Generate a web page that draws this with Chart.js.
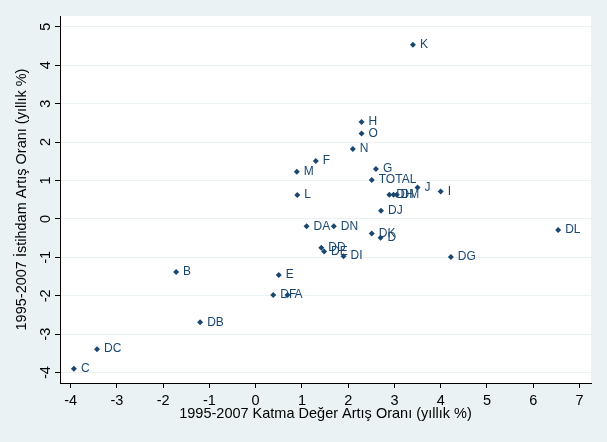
<!DOCTYPE html>
<html><head><meta charset="utf-8">
<script src="https://cdn.jsdelivr.net/npm/chart.js@4.4.1/dist/chart.umd.min.js"></script>
<style>html,body{margin:0;padding:0;background:#EAF2F3;overflow:hidden}canvas{display:block}</style>
</head><body>
<canvas id="c" width="607" height="442"></canvas>
<script>
// Sector codes
const labels = ["K","H","O","N","F","M","G","TOTAL","J","I","DH","DM","","DJ","L",
  "DA","DN","DK","D","DD","DE","DI","DG","DL","E","DF","A","B","DB","DC","C"];
// 1995-2007 value added growth (%/yr)
const xValues = [3.40,2.29,2.29,2.10,1.30,0.89,2.60,2.51,3.50,4.00,2.89,2.98,3.05,2.71,0.90,
  1.10,1.69,2.51,2.70,1.42,1.48,1.90,4.22,6.54,0.50,0.38,0.69,-1.72,-1.20,-3.43,-3.93];
// 1995-2007 employment growth (%/yr)
const yValues = [4.53,2.52,2.22,1.82,1.51,1.23,1.30,1.01,0.82,0.71,0.63,0.63,0.63,0.21,0.62,
  -0.19,-0.19,-0.38,-0.49,-0.75,-0.85,-0.97,-0.99,-0.29,-1.46,-1.98,-1.98,-1.38,-2.69,-3.39,-3.90];
const xTicks = [-4,-3,-2,-1,0,1,2,3,4,5,6,7];
const yTicks = [-4,-3,-2,-1,0,1,2,3,4,5];
const xTitle = "1995-2007 Katma Değer Artış Oranı (yıllık %)";
const yTitle = "1995-2007 İstihdam Artış Oranı (yıllık %)";

const FONT = "'Liberation Sans', Arial, sans-serif";
const NAVY = "#1a476f";
const BG = "#EAF2F3";

const bgPlugin = {
  id: 'bg',
  beforeDraw(chart) {
    const {ctx, chartArea: a} = chart;
    ctx.save();
    ctx.fillStyle = BG;
    ctx.fillRect(0, 0, chart.width, chart.height);
    ctx.fillStyle = '#ffffff';
    ctx.fillRect(a.left, a.top, a.right - a.left, a.bottom - a.top);
    ctx.restore();
  }
};
const labelPlugin = {
  id: 'pointLabels',
  afterDatasetsDraw(chart) {
    const {ctx} = chart;
    const meta = chart.getDatasetMeta(0);
    ctx.save();
    ctx.font = "12px " + FONT;
    ctx.fillStyle = NAVY;
    ctx.textBaseline = 'middle';
    ctx.textAlign = 'left';
    meta.data.forEach((el, i) => {
      if (labels[i]) ctx.fillText(labels[i], el.x + 7, el.y);
    });
    ctx.restore();
  }
};

new Chart(document.getElementById('c'), {
  type: 'scatter',
  data: {
    datasets: [{
      data: xValues.map((x, i) => ({x: x, y: yValues[i]})),
      pointStyle: 'rectRot',
      pointRadius: 3,
      pointHoverRadius: 3,
      backgroundColor: NAVY,
      borderColor: NAVY,
      borderWidth: 0
    }]
  },
  options: {
    responsive: false,
    animation: false,
    devicePixelRatio: 1,
    layout: {padding: {top: 16, right: 16, left: 0, bottom: 0}},
    plugins: {legend: {display: false}, tooltip: {enabled: false}},
    scales: {
      x: {
        type: 'linear', min: -4.23, max: 7.25,
        afterBuildTicks: s => { s.ticks = xTicks.map(v => ({value: v})); },
        afterFit: s => { s.height = 59; },
        grid: {drawOnChartArea: false, drawTicks: true, tickLength: 5, tickColor: '#000', tickWidth: 1},
        border: {display: true, color: '#000', width: 1},
        ticks: {autoSkip: false, maxRotation: 0, minRotation: 0, padding: 4, color: '#000',
          font: {family: FONT, size: 14.5}},
        title: {display: true, text: xTitle, color: '#000', font: {family: FONT, size: 14.5},
          padding: {top: 0, bottom: 19}}
      },
      y: {
        type: 'linear', min: -4.27, max: 5.28,
        afterBuildTicks: s => { s.ticks = yTicks.map(v => ({value: v})); },
        afterFit: s => { s.width = 60; },
        grid: {drawOnChartArea: true, color: BG, lineWidth: 1, drawTicks: true, tickLength: 5, tickColor: '#000', tickWidth: 1},
        border: {display: true, color: '#000', width: 1},
        ticks: {autoSkip: false, minRotation: 90, maxRotation: 90, crossAlign: 'center', padding: 3, color: '#000',
          font: {family: FONT, size: 14.5}},
        title: {display: true, text: yTitle, color: '#000', font: {family: FONT, size: 14.5},
          padding: {top: 13, bottom: 0}}
      }
    }
  },
  plugins: [bgPlugin, labelPlugin]
});
</script>
</body></html>
